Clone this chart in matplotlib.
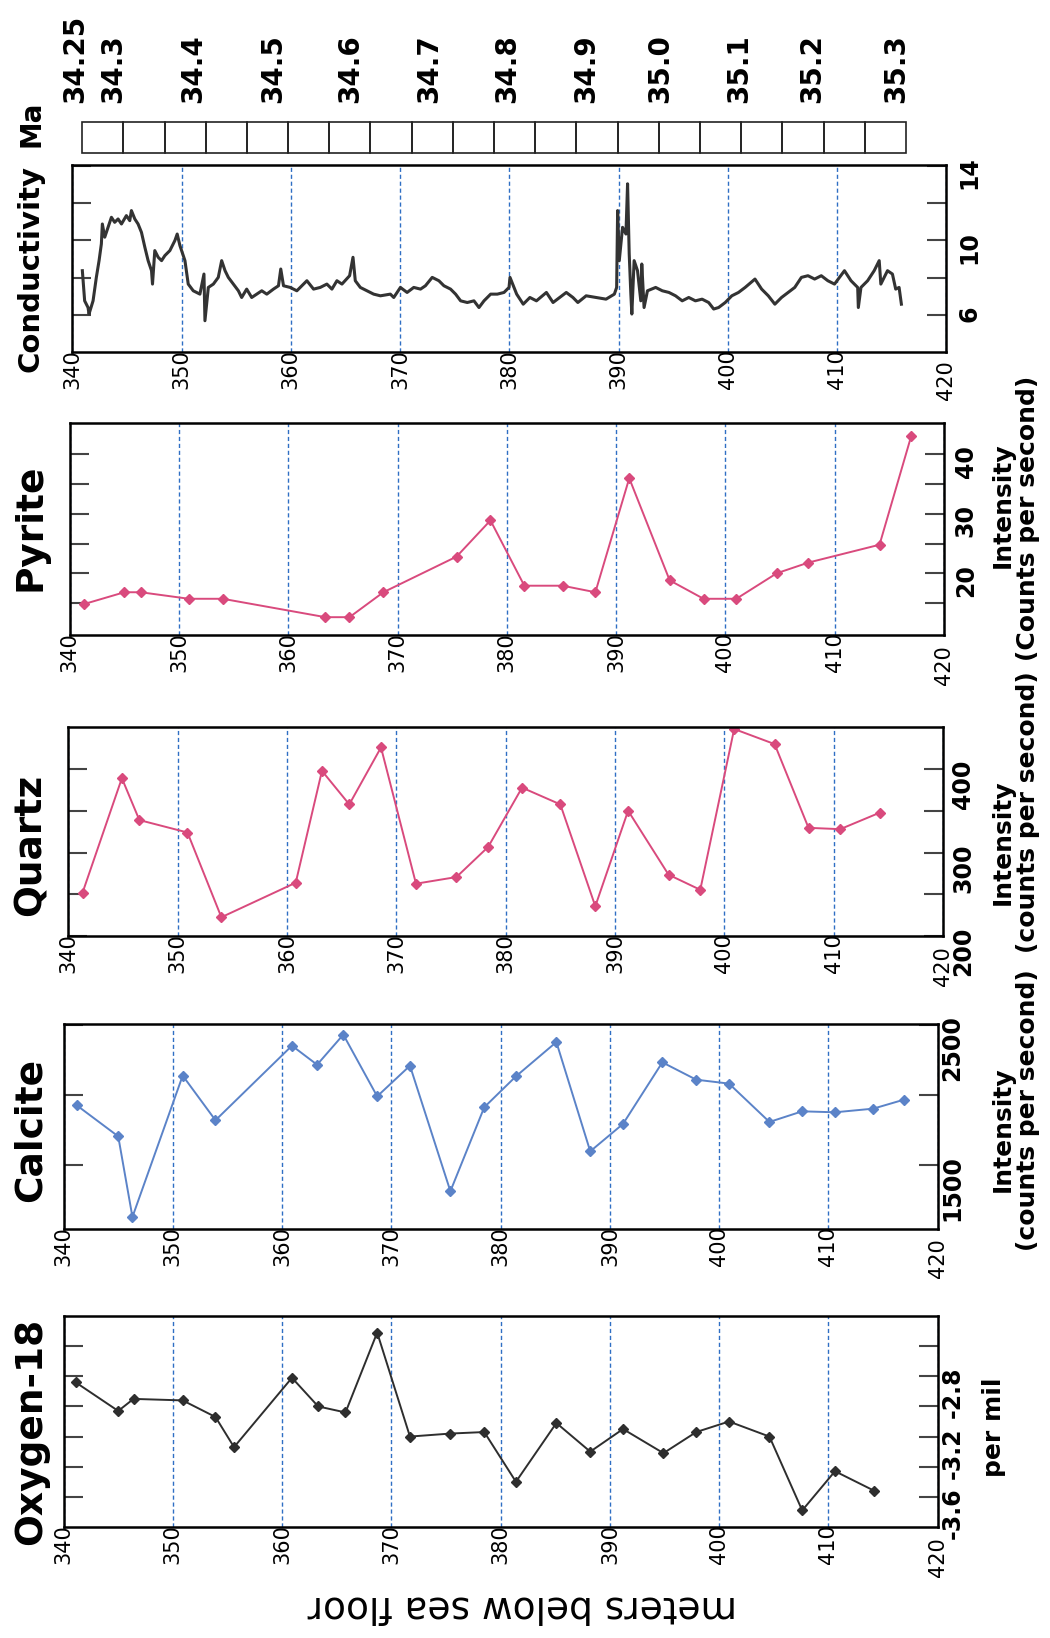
import numpy as np
import matplotlib.pyplot as plt

# depth axis (meters below sea floor), shared by every panel
depth_ticks = [340, 350, 360, 370, 380, 390, 400, 410, 420]

# age scale (Ma) above the panels
ma_ages = ['34.25', '34.3', '34.4', '34.5', '34.6', '34.7', '34.8', '34.9',
           '35.0', '35.1', '35.2', '35.3']
ma_depth = [340.3, 343.7, 351.1, 358.4, 365.4, 372.7, 379.8, 387.0, 393.8,
            401.0, 407.7, 415.4]
ma_box_start, ma_box_end, ma_cells = 340.9, 416.3, 20

# conductivity log
cond_depth = [340.92, 341.13, 341.44, 341.53, 341.90, 342.20, 342.45, 342.66, 342.75, 342.97,
              343.27, 343.58, 343.88, 344.19, 344.50, 344.95, 345.26, 345.41, 345.72, 346.02,
              346.33, 346.64, 346.94, 347.25, 347.34, 347.55, 347.86, 348.17, 348.47, 348.93,
              349.39, 349.60, 349.85, 350.31, 350.61, 351.07, 351.68, 352.05, 352.14, 352.45,
              352.91, 353.36, 353.67, 353.98, 354.28, 354.74, 355.20, 355.50, 355.96, 356.42,
              356.88, 357.34, 357.80, 358.41, 358.87, 359.08, 359.33, 359.94, 360.55, 361.47,
              362.08, 362.69, 363.30, 363.76, 364.22, 364.68, 365.38, 365.69, 365.90, 366.36,
              366.97, 367.58, 368.20, 369.11, 369.42, 370.03, 370.64, 371.25, 371.87, 372.32,
              372.94, 373.55, 374.01, 374.62, 375.08, 375.54, 376.15, 376.76, 377.22, 377.68,
              378.29, 378.90, 379.51, 379.97, 380.06, 380.67, 381.27, 381.88, 382.48, 383.39,
              384.00, 384.61, 385.21, 385.82, 386.27, 387.03, 387.94, 388.85, 389.61, 389.82,
              389.91, 390.06, 390.36, 390.67, 390.82, 390.97, 391.12, 391.21, 391.42, 391.73,
              392.03, 392.12, 392.33, 392.64, 393.39, 394.00, 394.61, 395.21, 395.82, 396.42,
              397.03, 397.64, 398.24, 398.70, 399.15, 399.76, 400.36, 400.97, 401.58, 402.48,
              403.09, 403.70, 404.30, 404.91, 405.52, 406.12, 406.73, 407.33, 407.94, 408.55,
              409.15, 409.76, 410.67, 411.27, 411.88, 411.94, 412.18, 412.79, 413.39, 413.85,
              414.00, 414.61, 415.06, 415.36, 415.67, 415.88]
cond_val = [8.37, 6.75, 6.39, 6.04, 6.75, 8.01, 8.91, 9.81, 10.88, 10.17,
            10.70, 11.24, 10.97, 11.15, 10.88, 11.33, 11.06, 11.60, 11.15, 10.88,
            10.43, 9.63, 8.91, 8.37, 7.65, 9.45, 9.09, 8.91, 9.18, 9.45,
            9.99, 10.34, 9.72, 8.91, 7.65, 7.29, 7.11, 8.19, 5.68, 7.47,
            7.65, 8.01, 8.91, 8.37, 8.01, 7.65, 7.29, 6.93, 7.38, 6.93,
            7.11, 7.29, 7.11, 7.38, 7.56, 8.46, 7.56, 7.47, 7.29, 7.83,
            7.38, 7.47, 7.65, 7.38, 7.83, 7.65, 8.10, 9.09, 7.83, 7.47,
            7.29, 7.11, 7.02, 7.11, 6.93, 7.47, 7.20, 7.47, 7.38, 7.56,
            8.01, 7.83, 7.56, 7.38, 7.11, 6.75, 6.66, 6.75, 6.39, 6.75,
            7.11, 7.11, 7.20, 7.47, 8.01, 7.11, 6.57, 6.93, 6.75, 7.20,
            6.66, 6.93, 7.20, 6.93, 6.66, 7.02, 6.93, 6.84, 7.11, 7.47,
            11.60, 8.91, 10.70, 10.34, 13.04, 9.27, 7.11, 6.04, 8.91, 8.37,
            6.75, 8.73, 6.39, 7.29, 7.47, 7.29, 7.20, 7.02, 6.75, 6.93,
            6.75, 6.84, 6.66, 6.31, 6.39, 6.66, 7.02, 7.20, 7.47, 7.92,
            7.38, 7.02, 6.57, 6.93, 7.20, 7.47, 8.01, 8.10, 7.92, 8.10,
            7.83, 7.65, 8.37, 7.83, 7.47, 6.39, 7.47, 7.83, 8.37, 8.91,
            7.65, 8.37, 8.19, 7.38, 7.47, 6.57]

# pyrite intensity (counts per second)
pyrite_depth = [341.3, 345.0, 346.5, 350.9, 354.0, 363.4, 365.6, 368.7, 375.4, 378.5, 381.6,
                385.1, 388.1, 391.2, 394.9, 398.0, 401.0, 404.7, 407.6, 414.1, 417.0]
pyrite_val = [14.8, 16.8, 16.8, 15.7, 15.7, 12.6, 12.6, 16.8, 22.8, 28.9, 17.9,
              17.9, 16.8, 36.0, 18.8, 15.7, 15.7, 20.0, 21.8, 24.8, 43.1]

# quartz intensity (counts per second)
quartz_depth = [341.3, 344.9, 346.5, 350.9, 354.0, 360.8, 363.2, 365.7, 368.6, 371.8, 375.5, 378.4,
                381.5, 385.0, 388.2, 391.2, 394.9, 397.8, 400.9, 404.6, 407.7, 410.6, 414.2]
quartz_val = [251.8, 389.2, 339.0, 324.1, 222.5, 263.9, 398.0, 357.8, 426.1, 262.7, 270.7, 306.8,
              377.9, 357.8, 235.7, 350.2, 273.5, 255.4, 448.2, 430.1, 329.7, 328.1, 347.8]

# calcite intensity (counts per second)
calcite_depth = [341.2, 345.0, 346.3, 350.9, 353.9, 360.9, 363.2, 365.6, 368.7, 371.7, 375.4, 378.5,
                 381.4, 385.1, 388.2, 391.2, 394.8, 397.9, 400.9, 404.6, 407.6, 410.6, 414.1, 416.9]
calcite_val = [1924, 1702, 1126, 2136, 1817, 2350, 2214, 2429, 1988, 2207, 1310, 1910,
               2131, 2376, 1595, 1791, 2231, 2107, 2079, 1805, 1881, 1874, 1900, 1964]

# oxygen-18 (per mil)
oxygen_depth = [341.1, 345.0, 346.4, 350.9, 353.9, 355.6, 360.9, 363.3, 365.8, 368.7, 371.7, 375.4,
                378.5, 381.4, 385.1, 388.2, 391.2, 394.9, 397.9, 400.9, 404.6, 407.6, 410.6, 414.2]
oxygen_val = [-2.84, -3.03, -2.95, -2.96, -3.07, -3.27, -2.81, -3.00, -3.04, -2.51, -3.20, -3.18,
              -3.17, -3.50, -3.11, -3.30, -3.15, -3.31, -3.17, -3.10, -3.20, -3.69, -3.43, -3.56]

W, H = 1050, 1638
fig = plt.figure(figsize=(W / 100, H / 100), dpi=100)


def rect(x0, x1, y0, y1):
    # pixel box -> figure fraction
    return [x0 / W, 1 - y1 / H, (x1 - x0) / W, (y1 - y0) / H]


grid_blue = '#2f6fc4'
pink = '#d94a7d'
blue = '#5b83c8'
dark = '#2e2e2e'


def panel(r, ylim, yticks, ylabels, pad):
    ax = fig.add_axes(r)
    ax.set_xlim(340, 420)
    ax.set_ylim(*ylim)
    ax.set_xticks(depth_ticks, [str(d) for d in depth_ticks], fontsize=15)
    ax.tick_params(axis='x', length=0, pad=-2, labelrotation=90)
    ax.set_yticks(yticks, ylabels, fontsize=17, fontweight='bold')
    ax.tick_params(axis='y', direction='in', length=14, width=1.5, color='#444444',
                   left=True, right=True, labelleft=False, labelright=True,
                   labelrotation=90, pad=pad)
    ax.grid(axis='x', color=grid_blue, ls=(0, (3, 2)), lw=1)
    for s in ax.spines.values():
        s.set_linewidth(1.8)
    ax.get_xticklabels()[-1].set_y(-0.06)
    return ax


# Ma strip
ax_ma = fig.add_axes(rect(72.3, 946.4, 122, 153))
ax_ma.set_xlim(340, 420)
ax_ma.set_ylim(0, 1)
cell_w = (ma_box_end - ma_box_start) / ma_cells
ax_ma.bar(ma_box_start + cell_w * np.arange(ma_cells), 1, width=cell_w, align='edge',
          fill=False, edgecolor='#222222', lw=1.2, clip_on=False)
for s in ax_ma.spines.values():
    s.set_visible(False)
ax_ma.set_yticks([])
ax_ma.xaxis.tick_top()
ax_ma.set_xticks(ma_depth, ma_ages, fontsize=20, fontweight='bold')
ax_ma.tick_params(axis='x', length=0, pad=14, labelrotation=90)

# Conductivity
ax = panel(rect(72.3, 946.4, 165, 352), (4, 14.05), [6, 8, 10, 12, 14],
           ['6', '', '10', '', '14'], 8)
ax.plot(cond_depth, cond_val, color='#333333', lw=2.2)

# Pyrite
ax = panel(rect(69.7, 944, 423, 635), (9.6, 45.3), [15, 20, 25, 30, 35, 40],
           ['', '20', '', '30', '', '40'], 7)
ax.plot(pyrite_depth, pyrite_val, color=pink, lw=1.4, marker='D', ms=5)

# Quartz
ax = panel(rect(68.3, 943, 727, 936), (200, 450.6), [200, 250, 300, 350, 400],
           ['200', '', '300', '', '400'], 6)
ax.plot(quartz_depth, quartz_val, color=pink, lw=1.4, marker='D', ms=5)

# Calcite
ax = panel(rect(63.6, 937.7, 1024, 1229), (1040, 2505), [1500, 2000, 2500],
           ['1500', '', '2500'], 2)
ax.plot(calcite_depth, calcite_val, color=blue, lw=1.4, marker='D', ms=5)

# Oxygen-18
ax = panel(rect(63.6, 937.7, 1316, 1527), (-3.8, -2.4),
           [-3.6, -3.4, -3.2, -3.0, -2.8, -2.6],
           ['-3.6', '', '-3.2', '', '-2.8', ''], 2)
ax.plot(oxygen_depth, oxygen_val, color=dark, lw=1.4, marker='D', ms=5)

# panel titles on the left
for name, yc, size in [('Ma', 123.5, 20), ('Conductivity', 269, 21), ('Pyrite', 527, 27),
                       ('Quartz', 845, 27), ('Calcite', 1130, 27), ('Oxygen-18', 1431, 27)]:
    fig.text(31 / W, 1 - yc / H, name, rotation=90, ha='center', va='center',
             fontsize=size, fontweight='bold')

# unit labels on the right
for txt, x, y in [('Intensity', 1003, 505), ('(Counts per second)', 1028, 518),
                  ('Intensity', 1003, 842), ('(counts per second)', 1028, 812),
                  ('Intensity', 1003, 1129), ('(counts per second)', 1028, 1110)]:
    fig.text(x / W, 1 - y / H, txt, rotation=90, ha='center', va='center',
             fontsize=18, fontweight='bold')
fig.text(994 / W, 1 - 1427 / H, 'per mil', rotation=90, ha='center', va='center',
         fontsize=18, fontweight='bold')

fig.text(522 / W, 1 - 1607 / H, 'meters below sea floor', rotation=180,
         ha='center', va='center', fontsize=27)

fig.savefig('out.png', dpi=100)
